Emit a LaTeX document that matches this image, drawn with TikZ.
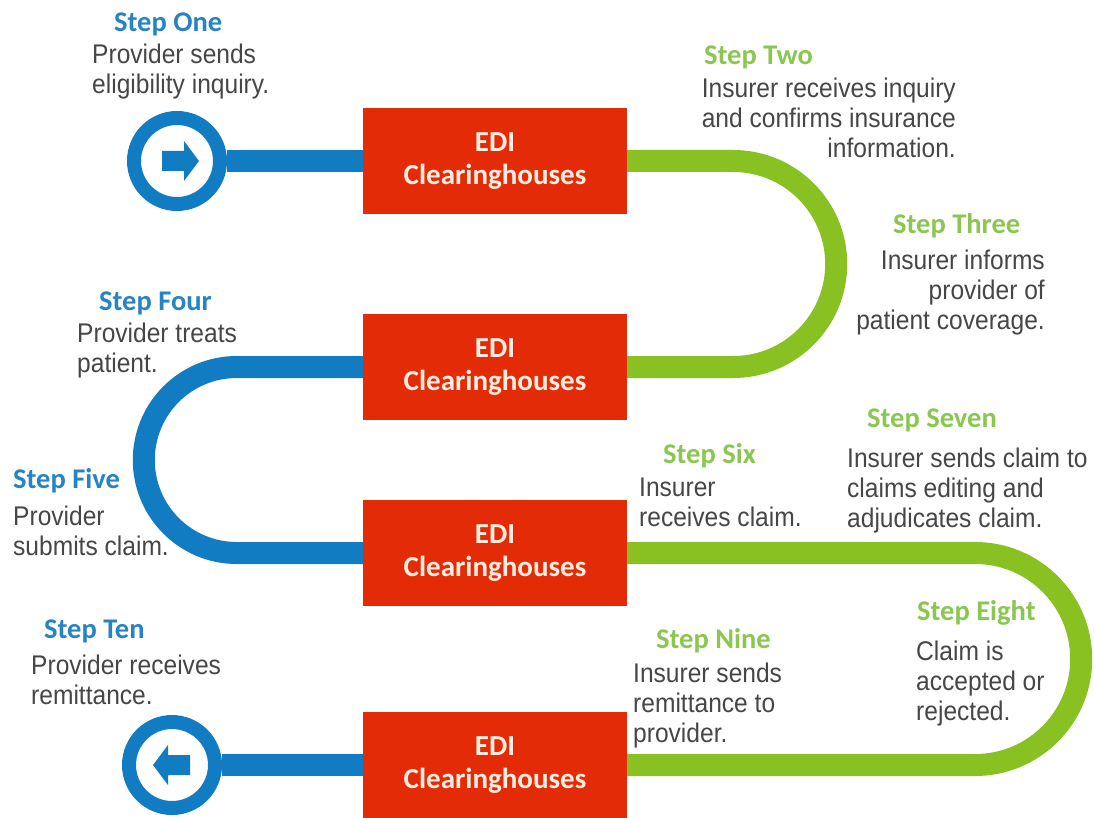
\documentclass[tikz,border=0pt]{standalone}
\usepackage{fontspec}
\setmainfont{Liberation Sans}[FakeStretch=0.91]
\newfontfamily\headfont{Carlito}
\usetikzlibrary{positioning}

\definecolor{ediblue}{RGB}{18,124,194}
\definecolor{edigreen}{RGB}{137,192,34}
\definecolor{edired}{RGB}{228,43,8}
\definecolor{boxtext}{RGB}{255,238,224}
\definecolor{headblue}{RGB}{38,131,196}
\definecolor{headgreen}{RGB}{138,198,80}
\definecolor{bodygray}{RGB}{70,70,70}

\begin{document}
\begin{tikzpicture}[x=1pt,y=-1pt]
\useasboundingbox (0,0) rectangle (1094,818);

\begin{scope}[every node/.style={rectangle,fill=edired,text=boxtext,minimum width=264,minimum height=106,inner sep=0,align=center,font=\headfont\bfseries\fontsize{29}{33}\selectfont}]
    \node (box1) at (495,161) {EDI\\Clearinghouses};
    \node (box2) at (495,367) {EDI\\Clearinghouses};
    \node (box3) at (495,553) {EDI\\Clearinghouses};
    \node (box4) at (495,765) {EDI\\Clearinghouses};
\end{scope}

\begin{scope}[every node/.style={circle,draw=ediblue,line width=14,fill=white,minimum size=86,inner sep=0}]
    \node (start) at (177,161) {};
    \node (finish) at (172,765) {};
\end{scope}

\begin{scope}[line width=22]
    \draw [color=ediblue] (start) -- (box1);
    \draw [color=edigreen,rounded corners=103] (box1.east) -- ++(209,0) |- (box2.east);
    \draw [color=ediblue,rounded corners=93] (box2.west) -- ++(-219,0) |- (box3.west);
    \draw [color=edigreen,rounded corners=106] (box3.east) -- ++(454,0) |- (box4.east);
    \draw [color=ediblue] (box4) -- (finish);
\end{scope}

% arrows in the two rings
\fill [ediblue,shift={(start)}] (-15,-10) -- (7,-10) -- (7,-20) -- (22,0) -- (7,20) -- (7,10) -- (-15,10) -- cycle;
\fill [ediblue,shift={(finish)}] (18,-10) -- (-4,-10) -- (-4,-20) -- (-19,0) -- (-4,20) -- (-4,10) -- (18,10) -- cycle;

\begin{scope}[every node/.style={inner sep=0,anchor=base west,text=headblue,font=\headfont\bfseries\fontsize{28.5}{30}\selectfont}]
    \node (h1) at (114,32) {Step One};
    \node (h4) at (99,310) {Step Four};
    \node (h5) at (13,488) {Step Five};
    \node (h10) at (44,638) {Step Ten};
\end{scope}

\begin{scope}[every node/.style={inner sep=0,anchor=base west,text=headgreen,font=\headfont\bfseries\fontsize{28.5}{30}\selectfont}]
    \node (h2) at (704,65) {Step Two};
    \node (h3) at (893,234) {Step Three};
    \node (h6) at (663,463) {Step Six};
    \node (h7) at (867,427) {Step Seven};
    \node (h8) at (917,620) {Step Eight};
    \node (h9) at (656,648) {Step Nine};
\end{scope}

% body texts, placed by the baseline of their last line
\begin{scope}[every node/.style={inner sep=0,anchor=base west,align=left,text=bodygray,font=\fontsize{27}{30}\selectfont}]
    \node (t1) at (92,94) {Provider sends\\eligibility inquiry.};
    \node (t4) at (77,372) {Provider treats\\patient.};
    \node (t5) at (13,555) {Provider\\submits claim.};
    \node (t6) at (639,526) {Insurer\\receives claim.};
    \node (t7) at (847,527) {Insurer sends claim to\\claims editing and\\adjudicates claim.};
    \node (t8) at (916,720) {Claim is\\accepted or\\rejected.};
    \node (t9) at (633,742) {Insurer sends\\remittance to\\provider.};
    \node (t10) at (31,704) {Provider receives\\remittance.};
    \node [anchor=base east,align=right] (t2) at (956,158) {Insurer receives inquiry\\and confirms insurance\\information.};
    \node [anchor=base east,align=right] (t3) at (1045,329) {Insurer informs\\provider of\\patient coverage.};
\end{scope}
\end{tikzpicture}
\end{document}
